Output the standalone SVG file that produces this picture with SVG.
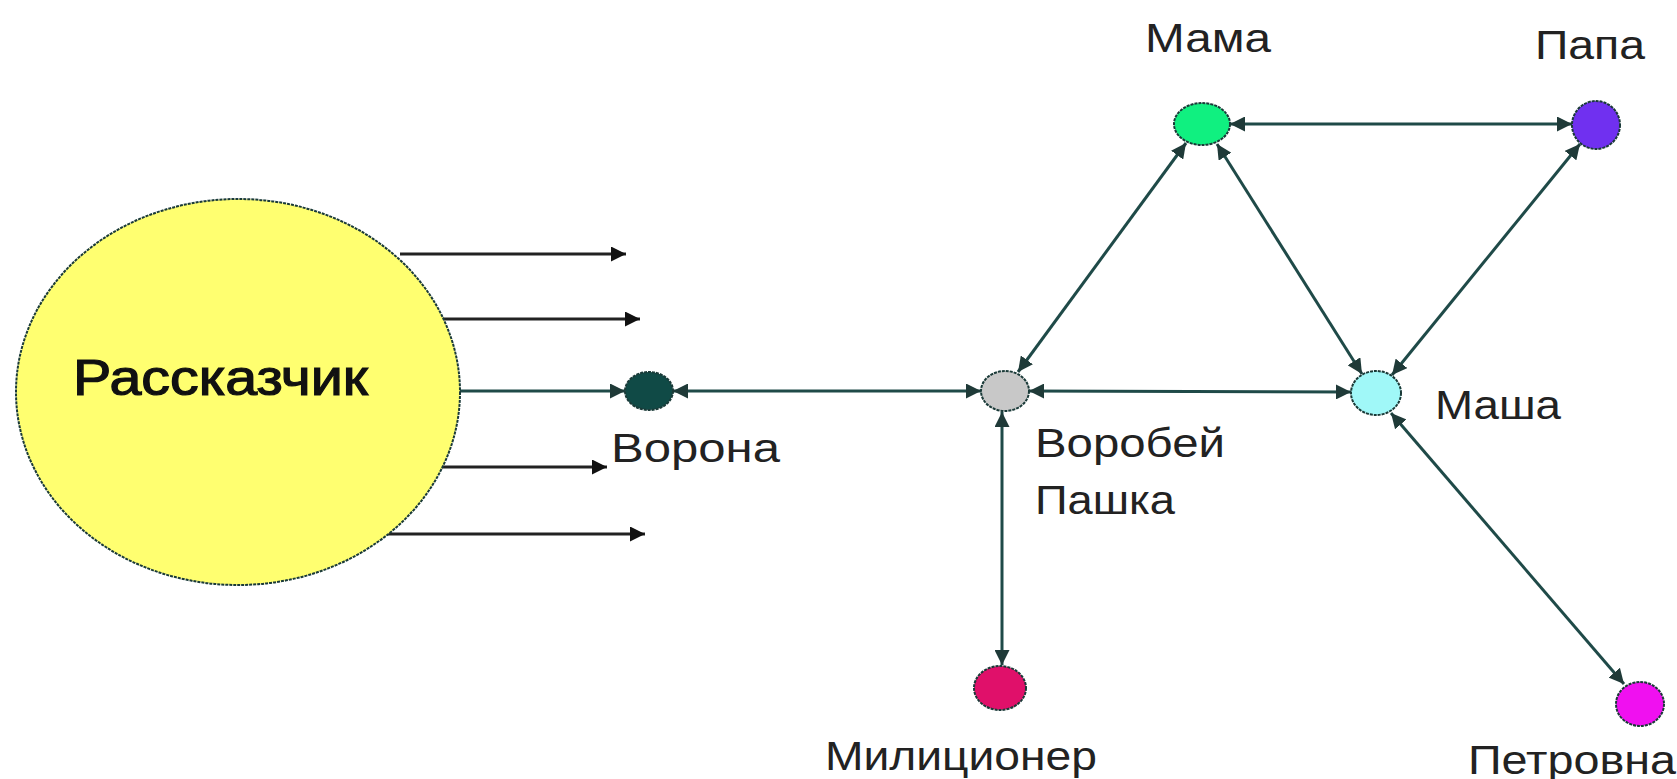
<svg xmlns="http://www.w3.org/2000/svg" width="1677" height="779" viewBox="0 0 1677 779">
<style>
.lbl{font-family:"Liberation Sans",Arial,sans-serif;font-size:40px;fill:#222}
.node{stroke:#1a3a38;stroke-width:2;stroke-dasharray:3 1}
.edge{stroke:#1f4a48;stroke-width:3;fill:none}
.out{stroke:#222;stroke-width:3;fill:none}
</style>
<defs>
<marker id="ah" viewBox="0 0 10 10" refX="10" refY="5" markerWidth="5" markerHeight="5" orient="auto-start-reverse" markerUnits="strokeWidth"><path d="M0,0 L10,5 L0,10 z" fill="#1f3a38"/></marker>
<marker id="ab" viewBox="0 0 10 10" refX="10" refY="5" markerWidth="5" markerHeight="5" orient="auto" markerUnits="strokeWidth"><path d="M0,0 L10,5 L0,10 z" fill="#111"/></marker>
</defs>
<rect width="1677" height="779" fill="#fff"/>
<g id="connectors">
<line class="out" x1="400" y1="254" x2="626" y2="254" marker-end="url(#ab)"/>
<line class="out" x1="441" y1="319" x2="640" y2="319" marker-end="url(#ab)"/>
<line class="edge" x1="460" y1="391" x2="625" y2="391" marker-end="url(#ah)"/>
<line class="out" x1="439" y1="467" x2="607" y2="467" marker-end="url(#ab)"/>
<line class="out" x1="387" y1="534" x2="645" y2="534" marker-end="url(#ab)"/>
<line class="edge" x1="673" y1="391" x2="981" y2="391" marker-start="url(#ah)" marker-end="url(#ah)"/>
<line class="edge" x1="1029" y1="391" x2="1351" y2="392" marker-start="url(#ah)" marker-end="url(#ah)"/>
<line class="edge" x1="1230" y1="124" x2="1572" y2="124" marker-start="url(#ah)" marker-end="url(#ah)"/>
<line class="edge" x1="1186" y1="143" x2="1018" y2="372" marker-start="url(#ah)" marker-end="url(#ah)"/>
<line class="edge" x1="1217" y1="144" x2="1362" y2="374" marker-start="url(#ah)" marker-end="url(#ah)"/>
<line class="edge" x1="1580" y1="144" x2="1392" y2="375" marker-start="url(#ah)" marker-end="url(#ah)"/>
<line class="edge" x1="1002" y1="412" x2="1002" y2="665" marker-start="url(#ah)" marker-end="url(#ah)"/>
<line class="edge" x1="1391" y1="413" x2="1624" y2="684" marker-start="url(#ah)" marker-end="url(#ah)"/>
</g>
<g id="n-rasskazchik"><ellipse class="node" cx="238" cy="392" rx="222" ry="193" fill="#ffff70"/><text class="lbl" x="73" y="395" textLength="295" lengthAdjust="spacingAndGlyphs" style="font-size:50px;fill:#111;stroke:#111;stroke-width:1.2">Рассказчик</text></g>
<g id="n-vorona"><ellipse class="node" cx="649" cy="391" rx="24" ry="19" fill="#104a46"/><text class="lbl" x="611" y="462" textLength="169" lengthAdjust="spacingAndGlyphs">Ворона</text></g>
<g id="n-vorobey"><ellipse class="node" cx="1005" cy="391" rx="24" ry="20" fill="#c8c8c8"/><text class="lbl" x="1035" y="457" textLength="190" lengthAdjust="spacingAndGlyphs">Воробей</text><text class="lbl" x="1035" y="514" textLength="140" lengthAdjust="spacingAndGlyphs">Пашка</text></g>
<g id="n-masha"><ellipse class="node" cx="1376" cy="393" rx="25" ry="22" fill="#a0f8f8"/><text class="lbl" x="1435" y="419" textLength="126" lengthAdjust="spacingAndGlyphs">Маша</text></g>
<g id="n-mama"><ellipse class="node" cx="1202" cy="124" rx="28" ry="21" fill="#10f080"/><text class="lbl" x="1145" y="52" textLength="126" lengthAdjust="spacingAndGlyphs">Мама</text></g>
<g id="n-papa"><ellipse class="node" cx="1596" cy="125" rx="24" ry="24" fill="#7030f0"/><text class="lbl" x="1535" y="59" textLength="110" lengthAdjust="spacingAndGlyphs">Папа</text></g>
<g id="n-militsioner"><ellipse class="node" cx="1000" cy="688" rx="26" ry="22" fill="#e0106a"/><text class="lbl" x="825" y="770" textLength="272" lengthAdjust="spacingAndGlyphs">Милиционер</text></g>
<g id="n-petrovna"><ellipse class="node" cx="1640" cy="704" rx="24" ry="22" fill="#f010f0"/><text class="lbl" x="1468" y="774" textLength="208" lengthAdjust="spacingAndGlyphs">Петровна</text></g>
</svg>
